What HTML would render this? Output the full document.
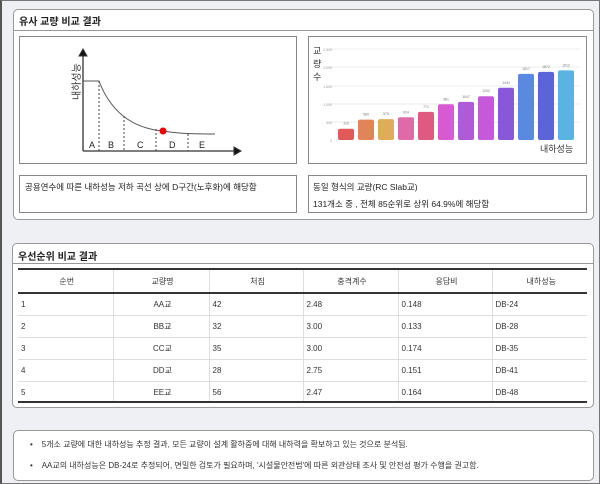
<!DOCTYPE html>
<html><head><meta charset="utf-8"><style>
*{box-sizing:border-box;margin:0;padding:0}
body{width:600px;height:484px;background:#eef0f3;font-family:"Liberation Sans","Noto Sans CJK KR",sans-serif;position:relative;overflow:hidden;color:#222}
.a{position:absolute}
.panel{position:absolute;background:#fff;border:1px solid #999;border-radius:5px}
.box{position:absolute;border:1px solid #888;background:#fff}
.t{position:absolute;font-size:9px;white-space:nowrap}
table{border-collapse:collapse;position:absolute;left:18px;top:269px;width:569px;font-size:8px;color:#333}
td,th{height:22px;border-left:1px solid #ddd;padding-left:3px;font-weight:normal}
td:first-child,th:first-child{border-left:none}
th{text-align:center;height:23px;border-bottom:2px solid #333}
tr.r td{border-bottom:1px solid #ddd}
</style></head><body>
<div class="a" style="left:0;top:0;width:600px;height:484px;border:1px solid #777;border-left:2px solid #555"></div>
<div class="panel" style="left:13px;top:9px;width:581px;height:211px"></div>
<div class="a" style="left:14px;top:30px;width:579px;height:1px;background:#999"></div>
<div class="t" style="left:19px;top:13px;font-size:10px;font-weight:bold">유사 교량 비교 결과</div>
<div class="box" style="left:19px;top:36px;width:278px;height:128px"></div>
<div class="box" style="left:308px;top:36px;width:279px;height:128px"></div>
<div class="box" style="left:19px;top:175px;width:278px;height:38px"></div>
<div class="box" style="left:308px;top:175px;width:279px;height:38px"></div>
<div class="t" style="left:25px;top:181px;font-size:8.5px">공용연수에 따른 내하성능 저하 곡선 상에 D구간(노후화)에 해당함</div>
<div class="t" style="left:313px;top:181px;font-size:8.5px">동일 형식의 교량(RC Slab교)</div>
<div class="t" style="left:313px;top:198px;font-size:8.5px">131개소 중 , 전체 85순위로 상위 64.9%에 해당함</div>
<svg class="a" style="left:0;top:0" width="600" height="230">
<g stroke="#333" fill="none">
<line x1="83" y1="151" x2="83" y2="55" stroke-width="1.3"/>
<polygon points="79,56 83,49 87,56" fill="#111"/>
<line x1="83" y1="151" x2="236" y2="151" stroke-width="1.3"/>
<polygon points="234,147 241,151 234,155" fill="#111"/>
<path d="M83 81 H99 C110 110 130 128 163 131 C180 134 200 134 215 134" stroke="#555"/>
<g stroke-dasharray="2,2" stroke="#444"><line x1="99" y1="81" x2="99" y2="151"/><line x1="124" y1="116" x2="124" y2="151"/><line x1="156" y1="129" x2="156" y2="151"/><line x1="188" y1="134" x2="188" y2="151"/></g>
</g>
<circle cx="163" cy="131" r="3.5" fill="#e00"/>
<g font-size="9" fill="#222" font-family="Liberation Sans,sans-serif"><text x="89" y="148">A</text><text x="108" y="148">B</text><text x="137" y="148">C</text><text x="169" y="148">D</text><text x="199" y="148">E</text></g>
<text transform="translate(80,100) rotate(-90)" font-size="10" fill="#333" font-family="Noto Sans CJK KR,sans-serif">내하성능</text>
<g stroke="#eee"><line x1="330" y1="49" x2="580" y2="49"/><line x1="330" y1="67" x2="580" y2="67"/><line x1="330" y1="86" x2="580" y2="86"/><line x1="330" y1="104" x2="580" y2="104"/><line x1="330" y1="122" x2="580" y2="122"/></g>
<g font-size="3.5" fill="#999" text-anchor="end"><text x="332" y="51">2,500</text><text x="332" y="69">2,000</text><text x="332" y="88">1,500</text><text x="332" y="106">1,000</text><text x="332" y="124">500</text><text x="332" y="142">0</text></g>
<g font-size="9" fill="#333" font-family="Noto Sans CJK KR,sans-serif"><text x="313" y="54">교</text><text x="313" y="67">량</text><text x="313" y="80">수</text><text x="540" y="152">내하성능</text></g>
<g id="bars"></g>
</svg>
<div class="panel" style="left:12px;top:243px;width:582px;height:165px"></div>
<div class="a" style="left:13px;top:263px;width:580px;height:1px;background:#999"></div>
<div class="t" style="left:18px;top:248px;font-size:10px;font-weight:bold">우선순위 비교 결과</div>
<div class="a" style="left:18px;top:268px;width:569px;height:2px;background:#333"></div>
<table style="top:270px">
<tr><th style="width:95px">순번</th><th style="width:96px">교량명</th><th style="width:94px">처짐</th><th style="width:95px">충격계수</th><th style="width:94px">응답비</th><th>내하성능</th></tr>
<tr class="r"><td>1</td><td style="text-align:center">AA교</td><td>42</td><td>2.48</td><td>0.148</td><td>DB-24</td></tr>
<tr class="r"><td>2</td><td style="text-align:center">BB교</td><td>32</td><td>3.00</td><td>0.133</td><td>DB-28</td></tr>
<tr class="r"><td>3</td><td style="text-align:center">CC교</td><td>35</td><td>3.00</td><td>0.174</td><td>DB-35</td></tr>
<tr class="r"><td>4</td><td style="text-align:center">DD교</td><td>28</td><td>2.75</td><td>0.151</td><td>DB-41</td></tr>
<tr><td>5</td><td style="text-align:center">EE교</td><td>56</td><td>2.47</td><td>0.164</td><td>DB-48</td></tr>
</table>
<div class="a" style="left:18px;top:401px;width:569px;height:2px;background:#333"></div>
<div class="panel" style="left:13px;top:430px;width:581px;height:51px"></div>
<div class="t" style="left:30px;top:439px;font-size:8px;color:#333">•&nbsp;&nbsp;&nbsp;&nbsp;5개소 교량에 대한 내하성능 추정 결과, 모든 교량이 설계 활하중에 대해 내하력을 확보하고 있는 것으로 분석됨.</div>
<div class="t" style="left:30px;top:460px;font-size:8px;color:#333">•&nbsp;&nbsp;&nbsp;&nbsp;AA교의 내하성능은 DB-24로 추정되어, 면밀한 검토가 필요하며, '시설물안전법'에 따른 외관상태 조사 및 안전성 평가 수행을 권고함.</div>
<script>
var v=[310,560,575,624,771,981,1047,1202,1434,1817,1872,1912];
var c=["#e05a5a","#e0845a","#e0ac5a","#e06aa8","#de5a80","#d85ad0","#b05ad8","#c45ad8","#8858d8","#5a8ae0","#5a66d8","#5ab4e0"];
var s='';
for(var i=0;i<12;i++){var h=v[i]/2500*91,x=338+i*20,y=140-h;
s+='<rect x="'+x+'" y="'+y+'" width="16" height="'+h+'" rx="2" fill="'+c[i]+'"/>';
s+='<text x="'+(x+8)+'" y="'+(y-4)+'" font-size="3.5" fill="#777" text-anchor="middle">'+v[i]+'</text>';}
document.getElementById('bars').innerHTML=s;
</script>
</body></html>
